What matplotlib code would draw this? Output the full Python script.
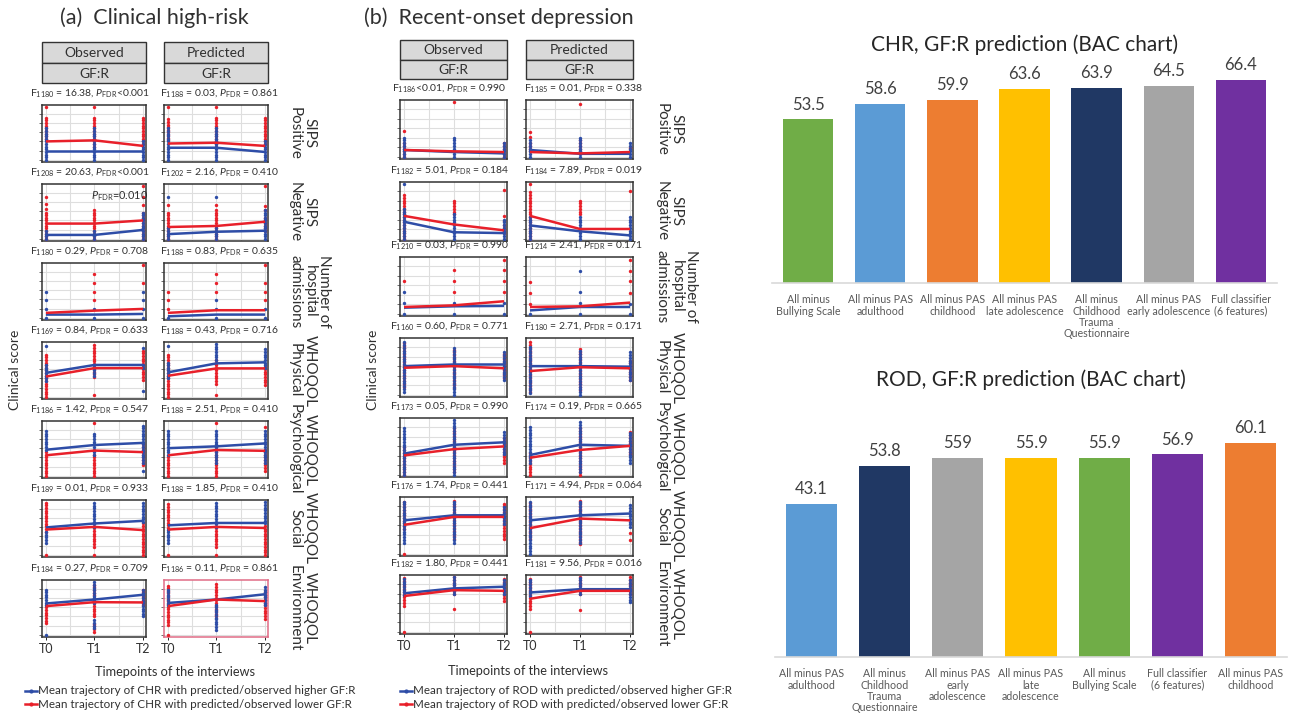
import numpy as np
import matplotlib
matplotlib.use("Agg")
import matplotlib.pyplot as plt
from matplotlib.lines import Line2D
from matplotlib.patches import Rectangle

plt.rcParams['font.family'] = ['Lato', 'DejaVu Sans']
plt.rcParams['mathtext.fontset'] = 'custom'
plt.rcParams['mathtext.rm'] = 'Lato'
plt.rcParams['mathtext.it'] = 'Lato:italic'
plt.rcParams['mathtext.bf'] = 'Lato:bold'

# ---------------- data ----------------
TIMEPOINTS = ["T0", "T1", "T2"]
ROW_LABELS = ["SIPS\nPositive", "SIPS\nNegative", "Number of\nhospital\nadmissions",
              "WHOQOL\nPhysical", "WHOQOL\nPsychological", "WHOQOL\nSocial",
              "WHOQOL\nEnvironment"]

# mean trajectories (panel scale 0-20), rows x [T0, T1, T2]
CHR_OBS_HIGH = [[3.3, 3.3, 3.3], [1.5, 1.5, 3.4], [1.25, 1.25, 1.5], [9.1, 12.1, 12.1],
                [9.9, 11.7, 12.5], [10.4, 11.9, 12.9], [11.9, 13.4, 15.2]]
CHR_OBS_LOW = [[7.0, 7.4, 5.3], [5.8, 5.8, 7.0], [1.9, 2.75, 3.4], [7.7, 10.9, 10.9],
               [7.8, 9.6, 9.0], [9.6, 10.6, 9.4], [10.9, 12.4, 12.3]]
CHR_PRED_HIGH = [[4.6, 4.6, 3.0], [1.8, 2.7, 3.1], [0.6, 1.25, 1.25], [9.3, 12.7, 13.1],
                 [10.5, 11.2, 12.3], [11.2, 12.1, 12.1], [12.1, 13.4, 15.4]]
CHR_PRED_LOW = [[6.2, 6.5, 5.3], [4.5, 4.9, 6.5], [1.9, 2.9, 2.9], [8.0, 10.8, 10.8],
                [7.8, 9.8, 9.5], [9.6, 10.6, 10.2], [10.9, 13.4, 12.8]]
ROD_OBS_HIGH = [[2.5, 1.75, 1.25], [6.25, 2.4, 2.1], [2.25, 2.75, 2.9], [10.5, 11.1, 11.1],
                [7.75, 11.0, 11.9], [12.25, 14.1, 14.1], [14.1, 15.9, 16.5]]
ROD_OBS_LOW = [[2.5, 2.0, 1.75], [8.4, 5.25, 3.1], [2.5, 3.1, 4.6], [9.9, 10.5, 9.7],
               [7.1, 9.4, 10.4], [10.6, 13.5, 13.5], [13.1, 15.25, 15.0]]
ROD_PRED_HIGH = [[2.5, 1.1, 1.1], [4.9, 2.75, 1.25], [1.25, 2.5, 2.5], [10.5, 10.5, 10.3],
                 [7.25, 11.0, 10.6], [12.25, 14.1, 14.75], [14.4, 15.6, 15.6]]
ROD_PRED_LOW = [[1.75, 1.25, 1.75], [8.4, 3.6, 3.6], [2.5, 2.75, 4.1], [8.7, 10.1, 9.7],
                [6.25, 9.1, 10.6], [9.4, 12.9, 12.25], [12.1, 15.0, 15.0]]

# individual scores: rows x timepoints x list of (lo, hi) runs of observed score levels
CHR_OBS_HIGH_PTS = [
    [[(0, 12.6)], [(0, 12.6)], [(0, 7)]],
    [[(0, 3)], [(0, 3)], [(0, 10)]],
    [[(0, 0), (3.4, 3.4), (6.6, 6.6), (10, 10)], [(0, 0), (3.4, 3.4)], [(0, 0), (3.4, 3.4), (6.6, 6.6), (10, 10)]],
    [[(19.3, 19.3), (6, 12)], [(8, 12)], [(18.4, 18.4), (11, 12), (2.4, 2.4)]],
    [[(10, 17.6)], [(8, 16)], [(5, 19), (2, 2)]],
    [[(4.6, 8.8)], [(10.6, 20)], [(12.5, 20)]],
    [[(11.2, 17.5), (0, 0)], [(11.9, 20), (2.5, 6.2)], [(7, 17)]],
]
CHR_OBS_LOW_PTS = [
    [[(20, 20), (8, 16)], [(20, 20), (5, 16)], [(6, 16)]],
    [[(16, 16), (13.2, 13.2), (11.3, 11.3), (0, 10)], [(0, 11.7)], [(20, 20), (16, 16), (13, 13), (0, 10.5)]],
    [[], [(16.6, 16.6), (13.4, 13.4), (10, 10), (6.6, 6.6)], [(20, 20), (13.4, 13.4)]],
    [[(0, 16.4)], [(7.5, 20), (0.8, 0.8)], [(6.5, 18)]],
    [[(0, 9.5)], [(20, 20), (0, 8)], [(4, 12.5)]],
    [[(8.8, 20), (0, 0)], [(3.1, 10.6), (0, 0)], [(0, 12.5)]],
    [[(4.4, 11.2)], [(7, 19.4), (1.2, 4.4)], [(11.2, 17.5)]],
]
CHR_PRED_HIGH_PTS = [
    [[(0, 12.6)], [(0, 12.6)], [(0, 7)]],
    [[(15.7, 15.7), (0, 4)], [(15.7, 15.7), (0, 4)], [(0, 11)]],
    [[(0, 0)], [(0, 0), (3.4, 3.4), (6.6, 6.6)], [(0, 0), (3.4, 3.4)]],
    [[(19.3, 19.3), (7, 13)], [(14, 20)], [(11, 18)]],
    [[(8, 17.6)], [(5, 17)], [(5, 17)]],
    [[(4.6, 9.6)], [(10.6, 20)], [(11.9, 20)]],
    [[(11.2, 17.5)], [(6.5, 12), (2, 6.2)], [(11.2, 18.8)]],
]
CHR_PRED_LOW_PTS = [
    [[(20, 20), (7.4, 16)], [(20, 20), (5, 16)], [(6, 16)]],
    [[(13, 13), (0, 10.5)], [(13, 13), (0, 11.3)], [(20, 20), (12.5, 12.5), (11, 11), (3, 8)]],
    [[(10, 10), (6.6, 6.6), (3.4, 3.4)], [(16.6, 16.6), (13.4, 13.4), (10, 10)], [(20, 20), (13.4, 13.4), (10, 10), (6.6, 6.6)]],
    [[(0, 16.4)], [(5, 14), (0.8, 0.8)], [(4.5, 11.5)]],
    [[(0, 7.8)], [(20, 20), (0, 11.5)], [(18.5, 18.5), (2, 10)]],
    [[(10.2, 20), (0, 0)], [(3.1, 10.6), (0, 0)], [(0, 11.9)]],
    [[(3.7, 19.4), (0, 0)], [(13.1, 20), (7, 12)], [(6.2, 16.9)]],
]
ROD_OBS_HIGH_PTS = [
    [[(0, 7.8)], [(0, 7.8)], [(0, 5.8)]],
    [[(20, 20), (0, 11)], [(0, 9)], [(0, 7.8)]],
    [[(8.1, 8.1), (4, 4), (0, 0)], [(4, 4), (0, 0)], [(4, 4), (0, 0)]],
    [[(1.2, 20)], [(0, 17.6)], [(5.5, 16.4)]],
    [[(0, 17.5)], [(0, 20)], [(7.5, 16.2)]],
    [[(4.1, 19.75)], [(4.1, 19.1)], [(11, 17.5)]],
    [[(13.4, 20)], [(14, 20)], [(14, 19.7)]],
]
ROD_OBS_LOW_PTS = [
    [[(9.4, 9.4), (0, 5)], [(20, 20)], [(0, 5)]],
    [[(0, 16.5)], [(9, 14)], [(17.75, 17.75), (8.4, 8.4), (6.5, 6.5), (2, 5)]],
    [[(11.9, 11.9)], [(15.9, 15.9), (11.9, 11.9), (8.1, 8.1)], [(19.6, 19.6), (15.9, 15.9), (11.9, 11.9), (8.1, 8.1)]],
    [[(3, 19)], [(2.5, 17)], [(6.1, 15.8)]],
    [[(0, 10)], [(1.2, 17.5)], [(4.4, 13.75)]],
    [[(9.1, 19.1), (0, 0)], [(5.4, 19.75)], [(5.4, 18.5)]],
    [[(9.6, 19.7), (0, 0)], [(14, 20), (8.4, 8.4)], [(11.4, 19.4)]],
]
ROD_PRED_HIGH_PTS = [
    [[(0, 6.5)], [(0, 7.1)], [(0, 5)]],
    [[(0, 8)], [(0, 8.4)], [(0, 8)]],
    [[(0, 0)], [(15.6, 15.6), (8.1, 8.1), (4, 4), (0, 0)], [(3.5, 3.5), (0, 0)]],
    [[(0.6, 18.2)], [(0, 16.4)], [(5.5, 16.4)]],
    [[(4.4, 17.5)], [(1.2, 20)], [(4.4, 16.2)]],
    [[(0, 19.5)], [(4.1, 19.1)], [(9.75, 18.25)]],
    [[(13.1, 19.4)], [(13.8, 20)], [(10.8, 18.8)]],
]
ROD_PRED_LOW_PTS = [
    [[(9, 9), (7.1, 7.1), (2, 5)], [(19.4, 19.4), (2, 6.5)], [(3.2, 3.2)]],
    [[(20, 20), (0, 17)], [(9, 14)], [(17.5, 17.5)]],
    [[(11.5, 11.5), (7.5, 7.5), (3.5, 3.5)], [], [(19.6, 19.6), (15.6, 15.6), (11.9, 11.9), (7.5, 7.5)]],
    [[(1.2, 19.4)], [(1.8, 17.6)], [(5.5, 12.7)]],
    [[(0, 8.75)], [(0, 17.5)], [(7.5, 15.6)]],
    [[(5.5, 19.1)], [(3.5, 19.75)], [(7.5, 7.5), (5, 5)]],
    [[(8.4, 20), (0, 0)], [(14, 20), (8.1, 8.1)], [(14, 20)]],
]

P = r"$P_{\mathrm{FDR}}$"
CHR_OBS_STATS = [r"F$_{1180}$ = 16.38, " + P + "<0.001", r"F$_{1208}$ = 20.63, " + P + "<0.001",
                 r"F$_{1180}$ = 0.29, " + P + " = 0.708", r"F$_{1169}$ = 0.84, " + P + " = 0.633",
                 r"F$_{1186}$ = 1.42, " + P + " = 0.547", r"F$_{1189}$ = 0.01, " + P + " = 0.933",
                 r"F$_{1184}$ = 0.27, " + P + " = 0.709"]
CHR_PRED_STATS = [r"F$_{1188}$ = 0.03, " + P + " = 0.861", r"F$_{1202}$ = 2.16, " + P + " = 0.410",
                  r"F$_{1188}$ = 0.83, " + P + " = 0.635", r"F$_{1188}$ = 0.43, " + P + " = 0.716",
                  r"F$_{1188}$ = 2.51, " + P + " = 0.410", r"F$_{1188}$ = 1.85, " + P + " = 0.410",
                  r"F$_{1186}$ = 0.11, " + P + " = 0.861"]
ROD_OBS_STATS = [r"F$_{1186}$<0.01, " + P + " = 0.990", r"F$_{1182}$ = 5.01, " + P + " = 0.184",
                 r"F$_{1210}$ = 0.03, " + P + " = 0.990", r"F$_{1160}$ = 0.60, " + P + " = 0.771",
                 r"F$_{1173}$ = 0.05, " + P + " = 0.990", r"F$_{1176}$ = 1.74, " + P + " = 0.441",
                 r"F$_{1182}$ = 1.80, " + P + " = 0.441"]
ROD_PRED_STATS = [r"F$_{1185}$ = 0.01, " + P + " = 0.338", r"F$_{1184}$ = 7.89, " + P + " = 0.019",
                  r"F$_{1214}$ = 2.41, " + P + " = 0.171", r"F$_{1180}$ = 2.71, " + P + " = 0.171",
                  r"F$_{1174}$ = 0.19, " + P + " = 0.665", r"F$_{1171}$ = 4.94, " + P + " = 0.064",
                  r"F$_{1181}$ = 9.56, " + P + " = 0.016"]

CHR_BAR_LABELS = ["All minus\nBullying Scale", "All minus PAS\nadulthood", "All minus PAS\nchildhood",
                  "All minus PAS\nlate adolescence", "All minus\nChildhood\nTrauma\nQuestionnaire",
                  "All minus PAS\nearly adolescence", "Full classifier\n(6 features)"]
CHR_BAC = [53.5, 58.6, 59.9, 63.6, 63.9, 64.5, 66.4]
CHR_BAC_TEXT = ["53.5", "58.6", "59.9", "63.6", "63.9", "64.5", "66.4"]
ROD_BAR_LABELS = ["All minus PAS\nadulthood", "All minus\nChildhood\nTrauma\nQuestionnaire",
                  "All minus PAS\nearly\nadolescence", "All minus PAS\nlate\nadolescence",
                  "All minus\nBullying Scale", "Full classifier\n(6 features)", "All minus PAS\nchildhood"]
ROD_BAC = [43.1, 53.8, 55.9, 55.9, 55.9, 56.9, 60.1]
ROD_BAC_TEXT = ["43.1", "53.8", "559", "55.9", "55.9", "56.9", "60.1"]

GREEN, LBLUE, ORANGE, YELLOW = "#70AD47", "#5B9BD5", "#ED7D31", "#FFC000"
NAVY, GREY, PURPLE = "#203864", "#A5A5A5", "#7030A0"
CHR_COLORS = [GREEN, LBLUE, ORANGE, YELLOW, NAVY, GREY, PURPLE]
ROD_COLORS = [LBLUE, NAVY, GREY, YELLOW, GREEN, PURPLE, ORANGE]

BLUE_LINE = "#2E4DA7"
RED_LINE = "#E8202A"
TXT = "#303030"

W, H = 1299, 717
fig = plt.figure(figsize=(W / 100, H / 100), dpi=100)


def px_axes(x0, y0, x1, y1):
    return fig.add_axes([x0 / W, 1 - y1 / H, (x1 - x0) / W, (y1 - y0) / H])


def ftext(x, y, s, **kw):
    kw.setdefault("color", TXT)
    return fig.text(x / W, 1 - y / H, s, **kw)


def expand(runs):
    vals = []
    for lo, hi in runs:
        vals.extend(np.arange(lo, hi + 1e-6, 1.0) if hi > lo else [lo])
    return vals


def draw_panel(ax, high, low, high_pts, low_pts, bottom, edge="#333333"):
    for pts, col in ((low_pts, RED_LINE), (high_pts, BLUE_LINE)):
        for t in range(3):
            ys = expand(pts[t])
            ax.scatter([t] * len(ys), ys, s=6, color=col, lw=0, zorder=3)
    ax.plot(range(3), high, color=BLUE_LINE, lw=1.8, zorder=4, solid_capstyle="butt")
    ax.plot(range(3), low, color=RED_LINE, lw=1.8, zorder=4, solid_capstyle="butt")
    ax.set_xlim(-0.08, 2.06)
    ax.set_ylim(-0.8, 20.8)
    ax.set_xticks([0, 1, 2])
    ax.set_xticks([0.5, 1.5], minor=True)
    ax.set_yticks([0, 3.5, 7, 10.5, 14, 17.5])
    ax.grid(True, which="both", color="#dedede", lw=0.8, zorder=0)
    ax.set_axisbelow(True)
    ax.tick_params(axis="y", length=2, width=0.6, color="#555555", labelleft=False)
    ax.tick_params(axis="x", which="minor", length=0)
    if bottom:
        ax.set_xticklabels(TIMEPOINTS, fontsize=9, color=TXT)
        ax.tick_params(axis="x", length=2, width=0.6, pad=2)
    else:
        ax.tick_params(axis="x", length=0, labelbottom=False)
    for s in ax.spines.values():
        s.set_color(edge)
        s.set_linewidth(1.1)


def draw_strip(x0, x1, y0, y1, y2, top_text):
    for ya, yb, txt in ((y0, y1, top_text), (y1, y2, "GF:R")):
        fig.add_artist(Rectangle((x0 / W, 1 - yb / H), (x1 - x0) / W, (yb - ya) / H,
                                 transform=fig.transFigure, facecolor="#D9D9D9",
                                 edgecolor="#333333", lw=1.0))
        ftext((x0 + x1) / 2, (ya + yb) / 2 + 0.5, txt, fontsize=10, ha="center", va="center")


def draw_block(cols, tops, hgt, strip_y, rowlab_x, data, stats, highlight=None):
    for c, (x0, x1) in enumerate(cols):
        draw_strip(x0, x1, strip_y[0], strip_y[1], strip_y[2], ["Observed", "Predicted"][c])
        high, low, hp, lp = data[c]
        for r, top in enumerate(tops):
            edge = "#E06C86" if highlight == (r, c) else "#333333"
            ax = px_axes(x0, top, x1, top + hgt)
            draw_panel(ax, high[r], low[r], hp[r], lp[r], r == len(tops) - 1, edge)
            ftext((x0 + x1) / 2 - 4 + 8 * c, top - 12, stats[c][r], fontsize=7.5,
                  ha="center", va="center")
    for r, top in enumerate(tops):
        ftext(rowlab_x, top + hgt / 2, ROW_LABELS[r], fontsize=11, rotation=270,
              ha="left", va="center", multialignment="center", linespacing=1.05)


# ---------------- (a) Clinical high-risk ----------------
ftext(60, 18, "(a)  Clinical high-risk", fontsize=15.5, ha="left", va="center")
a_tops = [105, 184, 263, 342, 421, 500, 580]
draw_block([(42, 146), (164, 268)], a_tops, 57, (42, 63, 83), 288,
           [(CHR_OBS_HIGH, CHR_OBS_LOW, CHR_OBS_HIGH_PTS, CHR_OBS_LOW_PTS),
            (CHR_PRED_HIGH, CHR_PRED_LOW, CHR_PRED_HIGH_PTS, CHR_PRED_LOW_PTS)],
           [CHR_OBS_STATS, CHR_PRED_STATS], highlight=(6, 1))
ftext(120, 196, r"$P_{\mathrm{FDR}}$=0.010", fontsize=7.8, ha="center", va="center")
ftext(15, 370, "Clinical score", fontsize=10, rotation=90, ha="center", va="center")
ftext(175, 672, "Timepoints of the interviews", fontsize=9.2, ha="center", va="center")

# ---------------- (b) Recent-onset depression ----------------
ftext(364, 18, "(b)  Recent-onset depression", fontsize=15.5, ha="left", va="center")
b_tops = [100, 182, 257, 338, 418, 497, 575]
draw_block([(400, 507), (526, 633)], b_tops, 59, (40, 60, 79), 655,
           [(ROD_OBS_HIGH, ROD_OBS_LOW, ROD_OBS_HIGH_PTS, ROD_OBS_LOW_PTS),
            (ROD_PRED_HIGH, ROD_PRED_LOW, ROD_PRED_HIGH_PTS, ROD_PRED_LOW_PTS)],
           [ROD_OBS_STATS, ROD_PRED_STATS])
ftext(373, 370, "Clinical score", fontsize=10, rotation=90, ha="center", va="center")
ftext(528, 671, "Timepoints of the interviews", fontsize=9.2, ha="center", va="center")

# legends
for lx, grp in ((25, "CHR"), (400, "ROD")):
    for ly, col, word in ((691, BLUE_LINE, "higher"), (704, RED_LINE, "lower")):
        fig.add_artist(Line2D([lx / W, (lx + 12) / W], [1 - ly / H] * 2, color=col, lw=1.8,
                              transform=fig.transFigure))
        fig.add_artist(Line2D([(lx + 6) / W], [1 - ly / H], color=col, marker="o", ms=2,
                              transform=fig.transFigure))
        ftext(lx + 13, ly, f"Mean trajectory of {grp} with predicted/observed {word} GF:R",
              fontsize=8.4, ha="left", va="center")


# ---------------- bar charts ----------------
def bar_chart(box, ytop, vals, texts, labels, colors, title, title_y):
    ax = px_axes(*box)
    x = np.arange(len(vals))
    ax.bar(x, vals, width=0.7, color=colors, zorder=2)
    for xi, v, t in zip(x, vals, texts):
        ax.annotate(t, (xi, v), xytext=(0, 5), textcoords="offset points",
                    ha="center", va="bottom", fontsize=12, color="#404040")
    ax.set_xlim(-0.5, len(vals) - 0.5)
    ax.set_ylim(0, ytop)
    ax.set_xticks(x)
    ax.set_xticklabels(labels, fontsize=7.7, color="#595959", linespacing=1.05)
    ax.tick_params(axis="x", length=0, pad=8)
    ax.set_yticks([])
    for side in ("top", "right", "left"):
        ax.spines[side].set_visible(False)
    ax.spines["bottom"].set_color("#D9D9D9")
    ax.spines["bottom"].set_linewidth(1.2)
    ftext((box[0] + box[2]) / 2, title_y, title, fontsize=15, ha="center", va="center",
          color="#262626")


bar_chart((772, 62, 1277, 283), 72.3, CHR_BAC, CHR_BAC_TEXT, CHR_BAR_LABELS, CHR_COLORS,
          "CHR, GF:R prediction (BAC chart)", 45)
bar_chart((775, 410, 1287, 657), 69.4, ROD_BAC, ROD_BAC_TEXT, ROD_BAR_LABELS, ROD_COLORS,
          "ROD, GF:R prediction (BAC chart)", 380)

fig.savefig("out.png", dpi=100)
